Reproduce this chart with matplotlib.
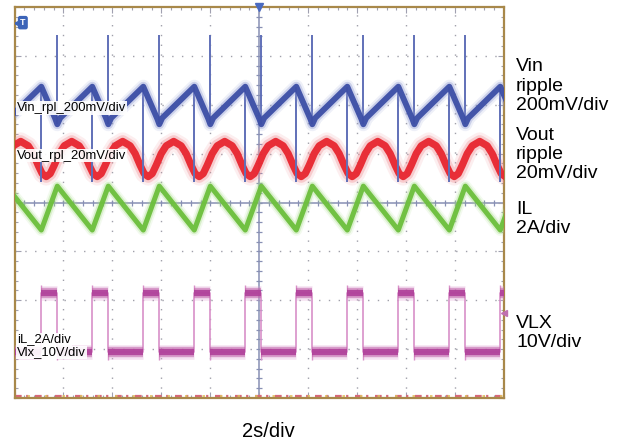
import numpy as np
import matplotlib
matplotlib.use("Agg")
import matplotlib.pyplot as plt

# ---------------- data (scope divisions: x 0..10, y 0..8) ----------------
# switching edges
sw_on = [0.548, 1.589, 2.631, 3.673, 4.715, 5.757, 6.799, 7.841, 8.883, 9.924]
sw_off = [-0.168, 0.874, 1.916, 2.958, 4.000, 5.042, 6.084, 7.126, 8.168, 9.210, 10.252]

# Vin ripple (blue)
vin_t = [-0.108,
         0.548, 0.834, 0.874, 0.934,
         1.589, 1.876, 1.916, 1.976,
         2.631, 2.918, 2.958, 3.018,
         3.673, 3.960, 4.000, 4.060,
         4.715, 5.002, 5.042, 5.102,
         5.757, 6.044, 6.084, 6.144,
         6.799, 7.086, 7.126, 7.186,
         7.841, 8.128, 8.168, 8.228,
         8.883, 9.170, 9.210, 9.270,
         9.924, 10.212]
vin_v = [5.73,
         6.37, 5.71, 5.60, 5.73,
         6.37, 5.71, 5.60, 5.73,
         6.37, 5.71, 5.60, 5.73,
         6.37, 5.71, 5.60, 5.73,
         6.37, 5.71, 5.60, 5.73,
         6.37, 5.71, 5.60, 5.73,
         6.37, 5.71, 5.60, 5.73,
         6.37, 5.71, 5.60, 5.73,
         6.37, 5.71, 5.60, 5.73,
         6.37, 5.71]
vin_spike_up_t = [0.874, 1.916, 2.958, 4.000, 5.042, 6.084, 7.126, 8.168, 9.210]
vin_spike_up_lo = 5.60
vin_spike_up_hi = 7.42
vin_spike_dn_t = [0.548, 1.589, 2.631, 3.673, 4.715, 5.757, 6.799, 7.841, 8.883, 9.924]
vin_spike_dn_hi = 6.37
vin_spike_dn_lo = 4.42

# Vout ripple (red)
vout_t = [-0.394, -0.312, -0.231, -0.128, -0.026, 0.127, 0.280, 0.382, 0.484, 0.566,
          0.648, 0.730, 0.811, 0.914, 1.016, 1.169, 1.322, 1.424, 1.526, 1.608,
          1.689, 1.771, 1.852, 1.955, 2.057, 2.210, 2.363, 2.465, 2.567, 2.649,
          2.731, 2.813, 2.894, 2.997, 3.099, 3.252, 3.405, 3.507, 3.609, 3.691,
          3.773, 3.855, 3.936, 4.039, 4.141, 4.294, 4.447, 4.549, 4.651, 4.733,
          4.815, 4.897, 4.978, 5.081, 5.183, 5.336, 5.489, 5.591, 5.693, 5.775,
          5.857, 5.939, 6.020, 6.123, 6.225, 6.378, 6.531, 6.633, 6.735, 6.817,
          6.899, 6.981, 7.062, 7.165, 7.267, 7.420, 7.573, 7.675, 7.777, 7.859,
          7.941, 8.023, 8.104, 8.207, 8.309, 8.462, 8.615, 8.717, 8.819, 8.901,
          8.983, 9.065, 9.146, 9.249, 9.351, 9.504, 9.657, 9.759, 9.861, 9.943,
          10.024]
vout_v = [4.53, 4.59, 4.76, 5.00, 5.16, 5.25, 5.16, 5.00, 4.76, 4.59,
          4.53, 4.59, 4.76, 5.00, 5.16, 5.25, 5.16, 5.00, 4.76, 4.59,
          4.53, 4.59, 4.76, 5.00, 5.16, 5.25, 5.16, 5.00, 4.76, 4.59,
          4.53, 4.59, 4.76, 5.00, 5.16, 5.25, 5.16, 5.00, 4.76, 4.59,
          4.53, 4.59, 4.76, 5.00, 5.16, 5.25, 5.16, 5.00, 4.76, 4.59,
          4.53, 4.59, 4.76, 5.00, 5.16, 5.25, 5.16, 5.00, 4.76, 4.59,
          4.53, 4.59, 4.76, 5.00, 5.16, 5.25, 5.16, 5.00, 4.76, 4.59,
          4.53, 4.59, 4.76, 5.00, 5.16, 5.25, 5.16, 5.00, 4.76, 4.59,
          4.53, 4.59, 4.76, 5.00, 5.16, 5.25, 5.16, 5.00, 4.76, 4.59,
          4.53, 4.59, 4.76, 5.00, 5.16, 5.25, 5.16, 5.00, 4.76, 4.59,
          4.53]

# Inductor current (green)
il_t = [-0.168, 0.548, 0.874, 1.589, 1.916, 2.631, 2.958, 3.673, 4.000, 4.715, 5.042,
        5.757, 6.084, 6.799, 7.126, 7.841, 8.168, 8.883, 9.210, 9.924, 10.252]
il_v = [4.335, 3.436, 4.335, 3.436, 4.335, 3.436, 4.335, 3.436, 4.335, 3.436, 4.335,
        3.436, 4.335, 3.436, 4.335, 3.436, 4.335, 3.436, 4.335, 3.436, 4.335]

# Switch node (magenta)
vlx_hi = 2.147
vlx_lo = 0.941
vlx_over_hi = 2.31
vlx_under_lo = 0.78

left_labels = ["Vin_rpl_200mV/div", "Vout_rpl_20mV/div", "iL_2A/div", "Vlx_10V/div"]
right_labels = [["Vin", "ripple", "200mV/div"], ["Vout", "ripple", "20mV/div"],
                ["IL", "2A/div"], ["VLX", "10V/div"]]
time_label = "2s/div"

# ---------------- figure ----------------
W, H = 621, 445
fig = plt.figure(figsize=(W / 100, H / 100), dpi=100)
fig.patch.set_facecolor("white")
L, R, T, B = 14.5, 504.0, 7.0, 398.0
ax = fig.add_axes([L / W, 1 - B / H, (R - L) / W, (B - T) / H])
ax.set_xlim(0, 10)
ax.set_ylim(0, 8)
ax.set_facecolor("white")

FONT = "Liberation Sans"

# spines
for s in ax.spines.values():
    s.set_color("#a8884a")
    s.set_linewidth(1.6)

ax.set_xticks(np.arange(0, 10.01, 1))
ax.set_yticks(np.arange(0, 8.01, 1))
ax.set_xticks(np.arange(0, 10.01, 0.2), minor=True)
ax.set_yticks(np.arange(0, 8.01, 0.2), minor=True)
ax.tick_params(which="both", direction="in", labelbottom=False, labelleft=False,
               top=True, right=True, color="#a0a0b0", width=0.8)
ax.tick_params(which="major", length=4)
ax.tick_params(which="minor", length=2)

# dotted grid
for gx in range(1, 10):
    if gx != 5:
        ax.axvline(gx, color="#a0a0aa", lw=1.0, ls=(0, (1.0, 6.05)), zorder=1)
for gy in range(1, 8):
    if gy != 4:
        ax.axhline(gy, color="#a0a0aa", lw=1.0, ls=(0, (1.0, 6.05)), zorder=1)

# center lines with tick marks
ax.axvline(5, color="#8890b4", lw=1.1, zorder=1.5)
ax.axhline(4, color="#8890b4", lw=1.1, zorder=1.5)
tk_y = np.arange(0.2, 8.0, 0.2)
tk_x = np.arange(0.2, 10.0, 0.2)
ax.plot(np.full_like(tk_y, 5.0), tk_y, ls="none", marker="_", ms=5, mew=0.9,
        color="#8890b4", zorder=1.5)
ax.plot(tk_x, np.full_like(tk_x, 4.0), ls="none", marker="|", ms=5, mew=0.9,
        color="#8890b4", zorder=1.5)

# bottom colourful noise strip
ax.plot([0, 10], [0.035, 0.035], color="#d86878", lw=1.6, ls=(0, (3, 2, 1, 3)),
        zorder=2, clip_on=False)
ax.plot([0, 10], [0.035, 0.035], color="#e0c060", lw=1.2, ls=(3, (1.5, 9)),
        zorder=2, clip_on=False)


def fuzzy(x, y, core, halo, lws, z):
    ax.plot(x, y, color=halo, lw=lws[0], alpha=0.14, zorder=z)
    ax.plot(x, y, color=halo, lw=lws[1], alpha=0.35, zorder=z)
    ax.plot(x, y, color=core, lw=lws[2], alpha=0.95, zorder=z)


# VLX edges (thin) and levels (thick)
ex, ey = [], []
for k, r in enumerate(sw_on):
    f = sw_off[k + 1]
    ex += [r, r, f, f]
    ey += [vlx_lo, vlx_hi, vlx_hi, vlx_lo]
ex = [sw_off[0]] + ex
ey = [vlx_lo] + ey
ax.plot(ex, ey, color="#d890c8", lw=1.2, zorder=3)
ax.vlines(sw_on, vlx_hi, vlx_over_hi, color="#d890c8", lw=1.0, zorder=3)
ax.vlines(sw_off[1:], vlx_under_lo, vlx_lo, color="#d890c8", lw=1.0, zorder=3)
hi_x0 = sw_on
hi_x1 = sw_off[1:]
lo_x0 = sw_off[:-1]
lo_x1 = sw_on
for (x0s, x1s, lev) in [(hi_x0, hi_x1, vlx_hi), (lo_x0, lo_x1, vlx_lo)]:
    ax.hlines([lev] * len(x0s), x0s, x1s, color="#e0a0d4", lw=10.5, alpha=0.3, zorder=3)
    ax.hlines([lev] * len(x0s), x0s, x1s, color="#c060a8", lw=7.5, alpha=0.55, zorder=3)
    ax.hlines([lev] * len(x0s), x0s, x1s, color="#b0409a", lw=4.5, alpha=0.9, zorder=3)

# IL
fuzzy(il_t, il_v, "#6cbf3c", "#a8dc88", (8.5, 6.0, 3.6), 4)

# Vout
fuzzy(vout_t, vout_v, "#e8252f", "#f08a90", (13, 9.0, 5.2), 5)

# Vin spikes
ax.vlines(vin_spike_dn_t, vin_spike_dn_lo, vin_spike_dn_hi, color="#6070b8", lw=1.4, zorder=6)
ax.vlines(vin_spike_up_t, vin_spike_up_lo, vin_spike_up_hi, color="#6070b8", lw=1.4, zorder=6)

# Vin
fuzzy(vin_t, vin_v, "#3c4ea6", "#8a96d0", (10.0, 7.0, 4.2), 6)

# markers
ax.plot([5.0], [8.0], marker="v", ms=6, color="#4a6ac0", clip_on=False, zorder=8)
ax.plot([10.0], [1.738], marker="<", ms=5, color="#c070b0", clip_on=False, zorder=8)
ax.text(0.17, 7.68, "T", color="white", fontsize=6.5, fontweight="bold",
        family=FONT, ha="center", va="center", zorder=9,
        bbox=dict(boxstyle="round,pad=0.25", fc="#3c64b8", ec="none"))
ax.plot([0.06], [7.68], marker="<", ms=4, color="#3c64b8", zorder=9)


def ftext(px, py, s, **kw):
    fig.text(px / W, 1 - py / H, s, family=FONT, va="baseline", **kw)


# left labels with white boxes
lbl_pos = [(17, 111), (17, 158.5), (17, 342.5), (17, 355.5)]
lbl_z = [10, 10, 11, 10]
for (px, py), s, z in zip(lbl_pos, left_labels, lbl_z):
    ftext(px, py, s, fontsize=9.4, color="black", zorder=z,
          bbox=dict(fc="white", ec="none", pad=0.6, alpha=0.92))

# right labels
rb = [[71, 90.7, 110], [140, 159.2, 178.3], [214.3, 233.3], [327.7, 346.7]]
for lines, bases in zip(right_labels, rb):
    for s, b in zip(lines, bases):
        ftext(516, b, s, fontsize=14, color="black")

ftext(268, 436.7, time_label, fontsize=14.5, color="black", ha="center")

fig.savefig("out.png", dpi=100, facecolor="white")
